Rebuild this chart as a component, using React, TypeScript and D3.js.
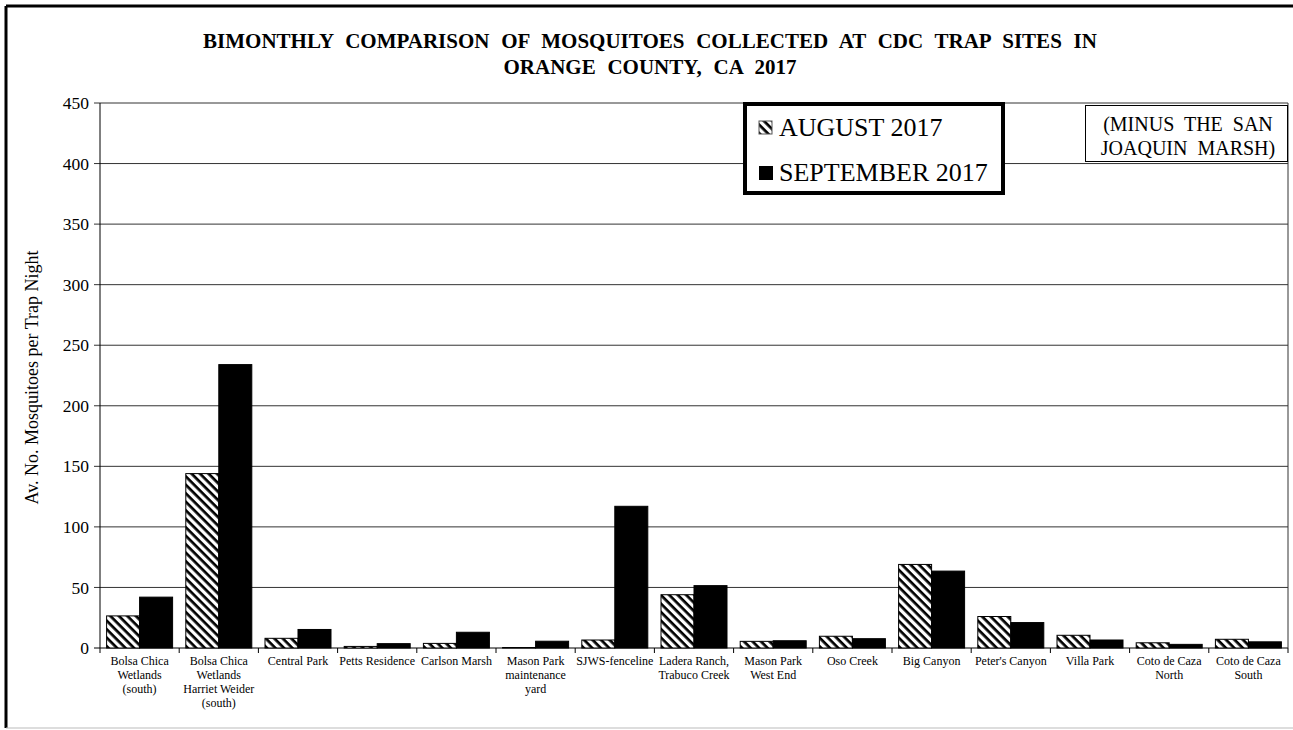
import React from "react";
import * as d3 from "d3";

const sites = [
  ["Bolsa Chica", "Wetlands", "(south)"],
  ["Bolsa Chica", "Wetlands", "Harriet Weider", "(south)"],
  ["Central Park"],
  ["Petts Residence"],
  ["Carlson Marsh"],
  ["Mason Park", "maintenance", "yard"],
  ["SJWS-fenceline"],
  ["Ladera Ranch,", "Trabuco Creek"],
  ["Mason Park", "West End"],
  ["Oso Creek"],
  ["Big Canyon"],
  ["Peter's Canyon"],
  ["Villa Park"],
  ["Coto de Caza", "North"],
  ["Coto de Caza", "South"],
];

const august = [26.5, 144, 8, 1.3, 3.8, 0.4, 6.6, 44, 5.5, 9.7, 69, 26, 10.5, 4.3, 7.2];
const september = [42, 234, 15.3, 3.6, 13, 5.6, 117, 51.5, 6, 7.7, 63.5, 21, 6.6, 3, 5.1];

const yTicks = [0, 50, 100, 150, 200, 250, 300, 350, 400, 450];

const W = 1293;
const H = 730;
const margin = { top: 103, right: 5, bottom: 82, left: 100 };
const FONT = "'Liberation Serif', 'Times New Roman', serif";
const pre = { whiteSpace: "pre" as const };

export default function App() {
  const innerW = W - margin.left - margin.right;
  const innerH = H - margin.top - margin.bottom;

  const x = d3
    .scaleBand<number>()
    .domain(d3.range(sites.length))
    .range([0, innerW])
    .paddingInner(0)
    .paddingOuter(0);
  const x1 = d3
    .scaleBand<string>()
    .domain(["aug", "sep"])
    .range([0, x.bandwidth()])
    .paddingOuter(0.2);
  const y = d3.scaleLinear().domain([0, 450]).range([innerH, 0]);

  return (
    <svg width={W} height={H} style={{ position: "absolute", left: 0, top: 0, background: "#fff" }}>
      <defs>
        <pattern id="hatch" width={6} height={6} patternUnits="userSpaceOnUse" patternTransform="rotate(45)">
          <rect width={6} height={6} fill="#fff" />
          <rect width={6} height={2.7} fill="#000" />
        </pattern>
      </defs>

      {/* outer frame */}
      <line x1={6} y1={6} x2={W} y2={6} stroke="#000" strokeWidth={3} />
      <line x1={6} y1={6} x2={6} y2={H - 2} stroke="#000" strokeWidth={3} />
      <line x1={6} y1={H - 2} x2={W} y2={H - 2} stroke="#bbb" strokeWidth={1} />

      {/* title */}
      <text x={650} y={48} textAnchor="middle" fontFamily={FONT} fontWeight="bold" fontSize={21} wordSpacing={6.5}>
        BIMONTHLY COMPARISON OF MOSQUITOES COLLECTED AT CDC TRAP SITES IN
      </text>
      <text x={650} y={74} textAnchor="middle" fontFamily={FONT} fontWeight="bold" fontSize={21} wordSpacing={6.5}>
        ORANGE COUNTY, CA 2017
      </text>

      <g transform={`translate(${margin.left},${margin.top})`}>
        {/* gridlines */}
        {yTicks.map((t) => (
          <g key={t}>
            <line x1={-6} x2={innerW} y1={y(t)} y2={y(t)} stroke={t === 0 ? "#000" : "#333"} strokeWidth={1} />
            <text x={-11} y={y(t)} dy="0.35em" textAnchor="end" fontFamily={FONT} fontSize={17.5}>
              {t}
            </text>
          </g>
        ))}
        <line x1={0} x2={0} y1={0} y2={innerH} stroke="#000" />
        <line x1={innerW} x2={innerW} y1={0} y2={innerH} stroke="#333" />

        {/* bars */}
        {sites.map((_, i) => (
          <g key={i} transform={`translate(${x(i)},0)`}>
            <rect
              x={x1("aug")}
              y={y(august[i])}
              width={x1.bandwidth()}
              height={innerH - y(august[i])}
              fill="url(#hatch)"
              stroke="#000"
              strokeWidth={1}
            />
            <rect
              x={x1("sep")}
              y={y(september[i])}
              width={x1.bandwidth()}
              height={innerH - y(september[i])}
              fill="#000"
              stroke="#000"
              strokeWidth={1}
            />
          </g>
        ))}

        {/* x ticks and labels */}
        {d3.range(sites.length + 1).map((i) => (
          <line key={i} x1={i * x.bandwidth()} x2={i * x.bandwidth()} y1={innerH} y2={innerH + 5} stroke="#000" />
        ))}
        {sites.map((lines, i) => (
          <text key={i} x={(x(i) ?? 0) + x.bandwidth() / 2} y={innerH + 17} textAnchor="middle" fontFamily={FONT} fontSize={12}>
            {lines.map((l, j) => (
              <tspan key={j} x={(x(i) ?? 0) + x.bandwidth() / 2} dy={j === 0 ? 0 : 14}>
                {l}
              </tspan>
            ))}
          </text>
        ))}
      </g>

      {/* y-axis title */}
      <text
        transform={`translate(38,${margin.top + innerH / 2 + 2}) rotate(-90)`}
        textAnchor="middle"
        fontFamily={FONT}
        fontSize={18}
      >
        Av. No. Mosquitoes per Trap Night
      </text>

      {/* legend */}
      <g>
        <rect x={745} y={104} width={258} height={89} fill="#fff" stroke="#000" strokeWidth={4} />
        <rect x={759} y={121} width={13} height={13} fill="url(#hatch)" stroke="#555" strokeWidth={1} />
        <text x={779} y={136} fontFamily={FONT} fontSize={26}>
          AUGUST 2017
        </text>
        <rect x={759} y={166} width={14} height={14} fill="#000" />
        <text x={779} y={181} fontFamily={FONT} fontSize={26}>
          SEPTEMBER 2017
        </text>
      </g>

      {/* note box */}
      <g>
        <rect x={1085.5} y={105.5} width={202} height={56} fill="#fff" stroke="#000" strokeWidth={1} />
        <text x={1188} y={131} textAnchor="middle" fontFamily={FONT} fontSize={20} style={pre}>
          (MINUS  THE  SAN
        </text>
        <text x={1188} y={155} textAnchor="middle" fontFamily={FONT} fontSize={20} style={pre}>
          JOAQUIN  MARSH)
        </text>
      </g>
    </svg>
  );
}
